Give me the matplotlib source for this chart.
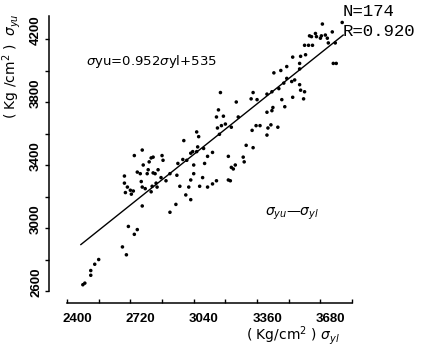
import matplotlib
matplotlib.use("Agg")
import matplotlib.pyplot as plt
import matplotlib.transforms as mtransforms
import numpy as np

# sigma_yl (x) and sigma_yu (y) values, Kg/cm^2
syl = [2480, 2490, 2520, 2520, 2540, 2560, 2680, 2700, 2710, 2740, 2755, 2780, 2920, 2950,
       3000, 3025, 2740, 2780, 2690, 2690, 2705, 2695, 2720, 2725, 2735, 2755, 2770, 2775,
       2780, 2785, 2795, 2805, 2810, 2815, 2825, 2835, 2830, 2835, 2845, 2850, 2855, 2825,
       2860, 2880, 2885, 2875, 2900, 2920, 2955, 2960, 2985, 2990, 2970, 3015, 3005, 3025,
       3035, 3040, 3025, 3040, 3055, 3065, 3060, 3055, 3070, 3085, 3090, 3095, 3110, 3135,
       3110, 3135, 3155, 3155, 3165, 3160, 3170, 3190, 3180, 3200, 3215, 3215, 3225, 3230,
       3230, 3240, 3250, 3255, 3265, 3290, 3295, 3305, 3340, 3335, 3355, 3375, 3410, 3415,
       3430, 3465, 3435, 3410, 3440, 3175, 3330, 3340, 3360, 3410, 3435, 3470, 3485, 3495,
       3510, 3535, 3540, 3550, 3575, 3580, 3600, 3595, 3445, 3480, 3510, 3540, 3575, 3580,
       3605, 3575, 3600, 3620, 3640, 3625, 3635, 3655, 3660, 3680, 3685, 3705, 3715, 3740,
       3720, 3755, 3690, 3790, 3745, 3760, 3500]
syu = [2640, 2650, 2700, 2730, 2770, 2800, 2880, 2830, 3010, 2960, 2990, 3140, 3100, 3150,
       3210, 3180, 3460, 3495, 3330, 3285, 3260, 3225, 3240, 3215, 3235, 3355, 3345, 3295,
       3260, 3400, 3250, 3345, 3370, 3420, 3445, 3450, 3265, 3350, 3345, 3285, 3260, 3230,
       3370, 3460, 3430, 3320, 3300, 3345, 3335, 3410, 3435, 3555, 3265, 3260, 3430, 3475,
       3485, 3400, 3305, 3345, 3610, 3580, 3515, 3485, 3265, 3320, 3505, 3410, 3455, 3480,
       3260, 3280, 3300, 3705, 3750, 3635, 3595, 3710, 3650, 3660, 3455, 3305, 3300, 3640,
       3385, 3375, 3400, 3800, 3705, 3450, 3420, 3525, 3510, 3620, 3650, 3650, 3590, 3635,
       3655, 3640, 3745, 3735, 3765, 3860, 3820, 3860, 3815, 3850, 3865, 3885, 3815, 3920,
       3950, 3930, 3830, 3940, 3910, 3875, 3865, 3820, 3985, 4000, 4025, 4085, 4045, 4090,
       4100, 4010, 4160, 4160, 4160, 4220, 4215, 4235, 4215, 4205, 4220, 4225, 4205, 4245,
       4175, 4175, 4295, 4305, 4045, 4045, 3770]

# regression line end points as drawn in the picture
fit_x = [2470, 3795]
fit_y = [2895, 4225]

xticks_major = [2400, 2720, 3040, 3360, 3680]
xticks_minor = [2560, 2880, 3200, 3520, 3840]
yticks_major = [2600, 3000, 3400, 3800, 4200]
yticks_minor = [2800, 3200, 3600, 4000]

W, H = 427, 349
fig = plt.figure(figsize=(W / 100, H / 100), dpi=100)
ax = fig.add_axes([49 / W, 46 / H, (360 - 49) / W, (303 - 16) / H])

ax.scatter(syl, syu, s=6.5, color="black", edgecolors="none", zorder=3)
ax.plot(fit_x, fit_y, color="black", lw=1.0, zorder=2)

ax.set_xlim(2309, 3880)
ax.set_ylim(2524, 4346)

for s in ("top", "right"):
    ax.spines[s].set_visible(False)
ax.spines["left"].set_bounds(2600, 4346)
ax.spines["bottom"].set_bounds(2400, 3840)
ax.spines["left"].set_linewidth(1.1)
ax.spines["bottom"].set_linewidth(1.1)

ax.set_xticks(xticks_major)
ax.set_xticks(xticks_minor, minor=True)
ax.set_yticks(yticks_major)
ax.set_yticks(yticks_minor, minor=True)

tick_font = dict(family="Liberation Sans", weight="bold", size=9.5)
ax.set_xticklabels([str(v) for v in xticks_major], fontdict=tick_font)
ax.set_yticklabels([str(v) for v in yticks_major], fontdict=tick_font,
                   rotation=90, va="center")
ax.tick_params(axis="x", which="both", direction="in", length=3, width=1, pad=7)
ax.tick_params(axis="y", which="both", direction="out", length=3, width=1, pad=2)

dx = mtransforms.ScaledTranslation(10 / 100, 0, fig.dpi_scale_trans)
for lab in ax.get_xticklabels():
    lab.set_transform(lab.get_transform() + dx)
dy = mtransforms.ScaledTranslation(0, 9 / 100, fig.dpi_scale_trans)
for lab in ax.get_yticklabels():
    lab.set_transform(lab.get_transform() + dy)

def fx(px):
    return px / W

def fy(py):
    return 1 - py / H

fig.text(fx(12), fy(66), r"( Kg /cm$^2$ )  $\sigma_{yu}$", rotation=90,
         ha="center", va="center", fontsize=10)
fig.text(fx(293), fy(336), r"( Kg/cm$^2$ ) $\sigma_{yl}$", ha="center", va="center",
         fontsize=10)
fig.text(fx(151), fy(62), r"$\sigma$yu=0.952$\sigma$yl+535", ha="center", va="center",
         fontsize=9.5)
fig.text(fx(343), fy(12), "N=174", ha="left", va="center", fontsize=12.5,
         family="Liberation Mono")
fig.text(fx(343), fy(31), "R=0.920", ha="left", va="center", fontsize=12.5,
         family="Liberation Mono")
fig.text(fx(292), fy(214), r"$\sigma_{yu}$—$\sigma_{yl}$", ha="center", va="center",
         fontsize=10)

fig.savefig("out.png", dpi=100)
